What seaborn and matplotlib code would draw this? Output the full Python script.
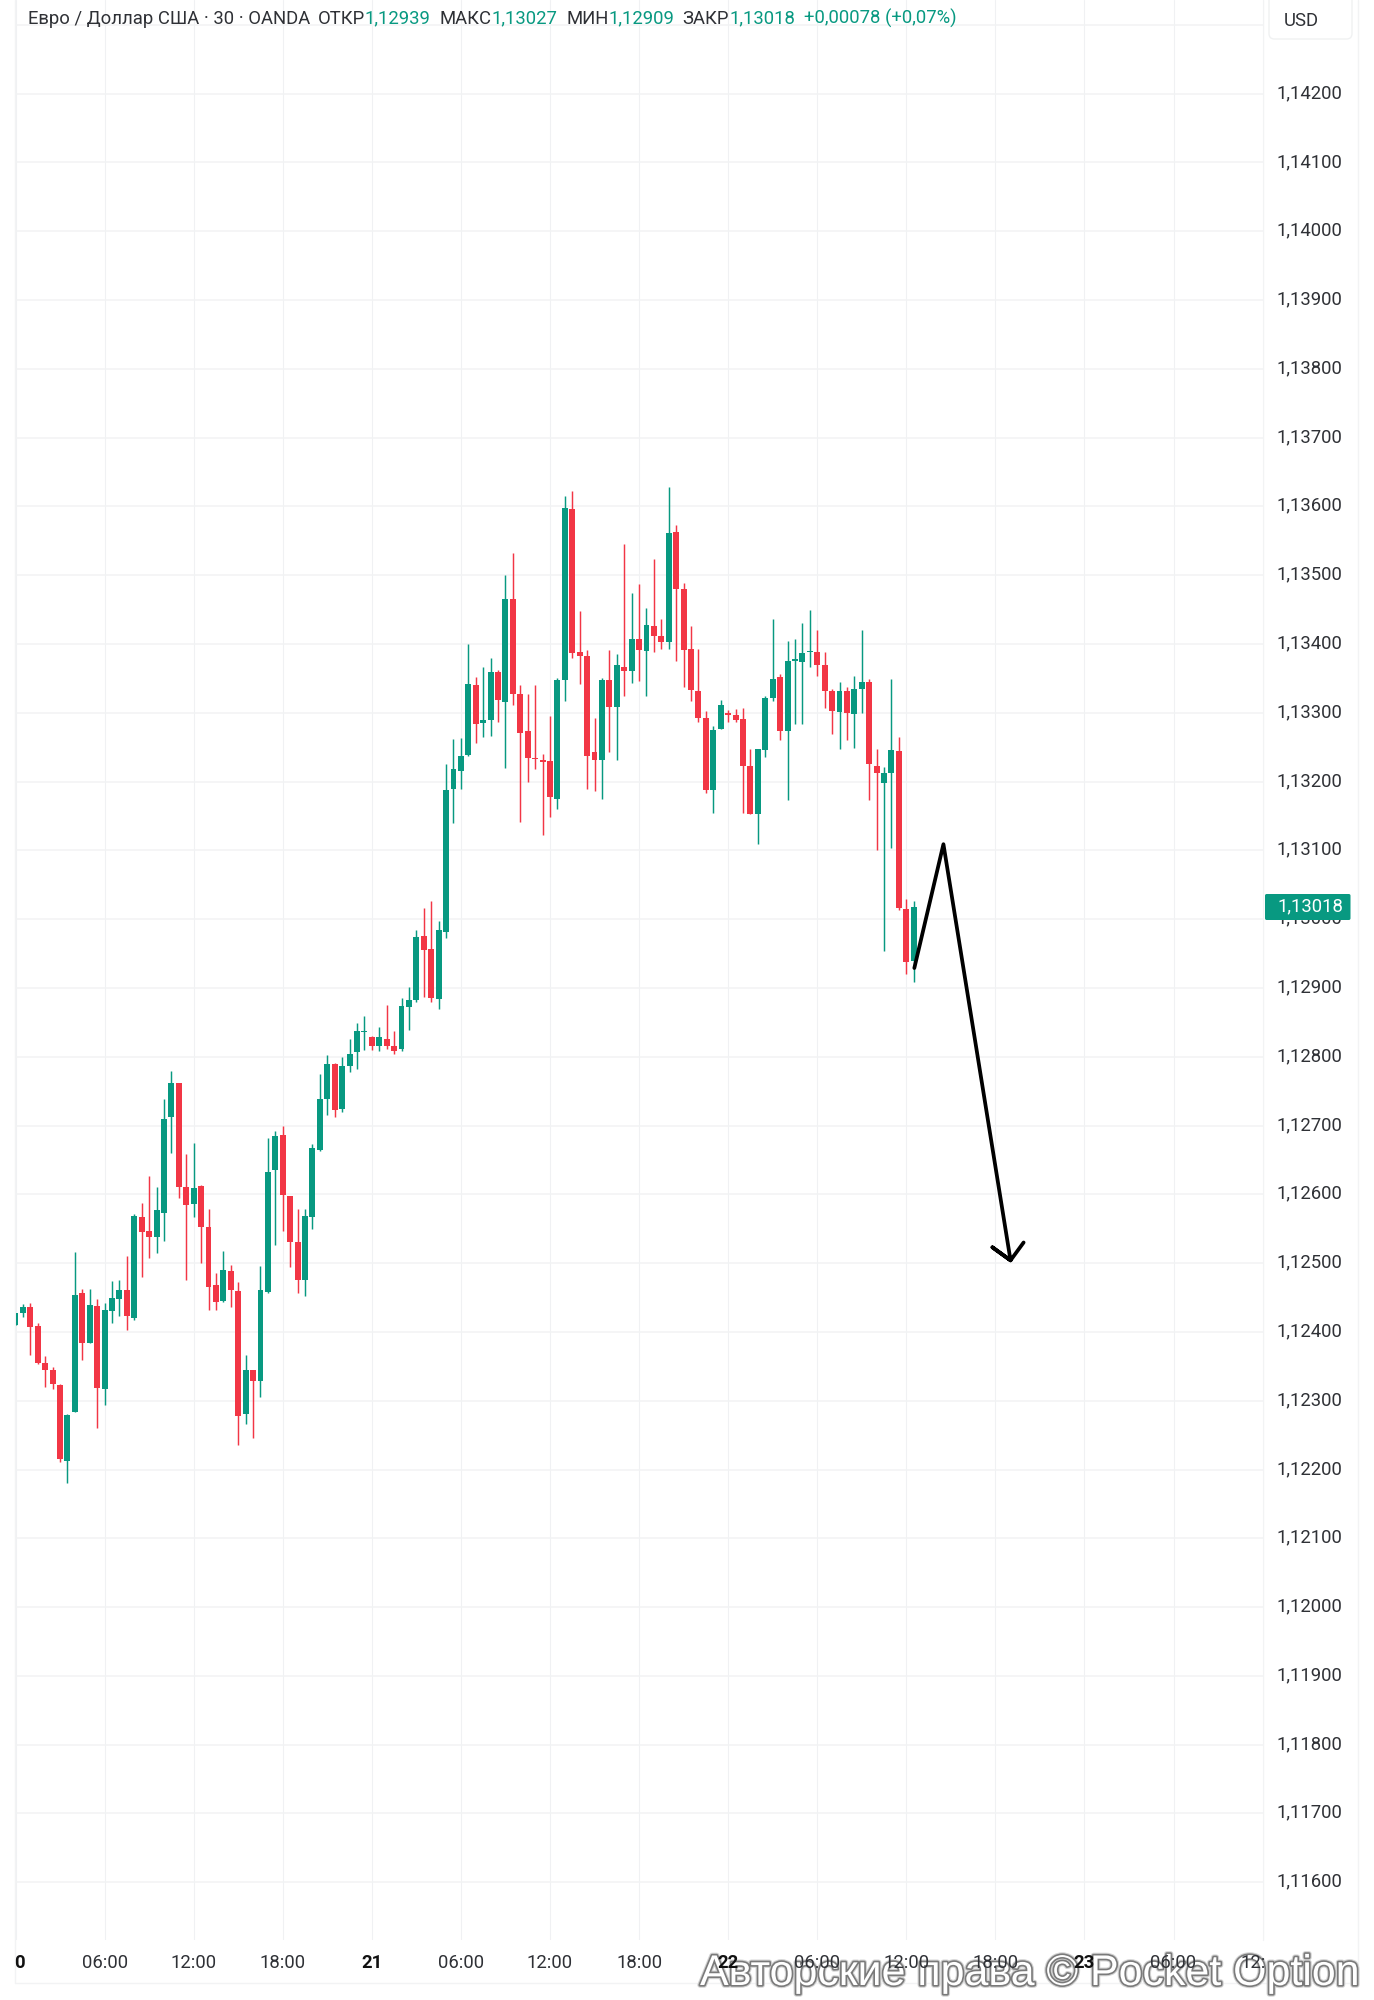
import numpy as np
import pandas as pd
import seaborn as sns
import matplotlib
matplotlib.use("Agg")
import matplotlib.pyplot as plt
import matplotlib.patheffects as pe
from matplotlib.lines import Line2D
from matplotlib.patches import FancyBboxPatch
from matplotlib.transforms import ScaledTranslation

# Prices in 1e-5 units (pipettes), one candle every 30 minutes from day 20 00:00
opens = [
    112410,112427,112436,112408,112355,112345,112323,112213,112283,112456,
    112384,112437,112317,112431,112448,112461,112420,112567,112546,112538,
    112573,112712,112762,112611,112586,112612,112553,112468,112445,112488,
    112459,112280,112344,112329,112458,112635,112686,112598,112531,112476,
    112567,112664,112738,112790,112724,112787,112807,112836,112828,112815,
    112826,112816,112811,112873,112882,112976,112956,112884,112981,113189,
    113216,113238,113340,113285,113289,113359,113316,113466,113327,113273,
    113235,113231,113230,113175,113347,113596,113388,113383,113243,113231,
    113347,113308,113367,113361,113408,113390,113426,113412,113403,113563,
    113480,113393,113331,113293,113188,113276,113299,113297,113291,113223,
    113153,113246,113321,113352,113273,113376,113374,113389,113389,113369,
    113331,113301,113331,113298,113335,113345,113223,113198,113212,113245,
    113015,112939]
closes = [
    112428,112436,112407,112355,112345,112324,112215,112279,112454,112384,
    112439,112319,112432,112450,112461,112423,112568,112545,112538,112577,
    112709,112762,112611,112584,112609,112553,112466,112444,112490,112461,
    112278,112344,112329,112461,112633,112685,112599,112530,112475,112568,
    112667,112738,112789,112723,112786,112804,112837,112838,112816,112828,
    112815,112809,112874,112882,112974,112955,112886,112984,113188,113218,
    113237,113342,113284,113289,113360,113319,113466,113327,113271,113234,
    113233,113228,113178,113347,113598,113387,113383,113237,113231,113348,
    113308,113369,113361,113408,113392,113427,113411,113403,113562,113480,
    113392,113333,113292,113188,113275,113311,113297,113290,113223,113153,
    113247,113321,113349,113273,113375,113378,113387,113390,113369,113331,
    113302,113331,113300,113335,113345,113225,113213,113213,113246,113016,
    112938,113018]
highs = [
    112428,112440,112442,112413,112365,112349,112324,112281,112516,112463,
    112463,112448,112442,112474,112476,112510,112571,112588,112626,112610,
    112738,112779,112762,112659,112674,112614,112578,112486,112518,112497,
    112472,112367,112344,112496,112682,112692,112700,112598,112579,112579,
    112673,112775,112803,112791,112800,112826,112849,112859,112830,112843,
    112875,112837,112886,112902,112984,113016,113027,112997,113226,113262,
    113264,113400,113352,113367,113380,113362,113501,113533,113341,113328,
    113340,113240,113296,113350,113615,113622,113448,113391,113292,113350,
    113392,113385,113546,113474,113487,113453,113523,113437,113628,113573,
    113488,113426,113393,113303,113281,113319,113304,113305,113307,113247,
    113247,113325,113437,113356,113405,113407,113431,113449,113421,113389,
    113335,113345,113338,113354,113421,113349,113247,113221,113349,113265,
    113030,113027]
lows = [
    112410,112422,112366,112353,112320,112317,112211,112181,112283,112359,
    112384,112260,112294,112413,112423,112403,112418,112480,112508,112514,
    112532,112660,112594,112476,112567,112500,112432,112432,112443,112436,
    112236,112266,112246,112306,112457,112526,112546,112495,112456,112452,
    112550,112663,112715,112713,112720,112778,112782,112810,112810,112809,
    112811,112804,112808,112839,112879,112887,112879,112870,112973,113140,
    113189,113237,113256,113265,113266,113287,113220,113311,113141,113199,
    113218,113122,113149,113160,113317,113379,113342,113189,113186,113174,
    113243,113232,113325,113343,113346,113325,113389,113393,113393,113375,
    113337,113317,113286,113183,113155,113276,113286,113287,113155,113153,
    113110,113236,113317,113261,113173,113284,113284,113366,113354,113307,
    113269,113248,113260,113249,113300,113173,113101,112954,113103,113014,
    112920,112909]

# Hand-drawn arrow: bar position, price
arrow_bars = [121.08, 125.0, 134.04, 131.6, 134.04, 135.8]
arrow_prices = [1.12929, 1.13109, 1.12504, 1.12523, 1.12504, 1.12530]

price_ticks = [1.116 + 0.001 * i for i in range(27)]
price_labels = [f"{p:.5f}".replace(".", ",") for p in price_ticks]
time_ticks = list(range(0, 169, 12))
time_labels = ["", "06:00", "12:00", "18:00", "21", "06:00", "12:00", "18:00",
               "22", "06:00", "12:00", "18:00", "23", "06:00", ""]
header = [("Евро / Доллар США · 30 · OANDA", 28, "dark"),
          ("ОТКР", 318, "dark"), ("1,12939", 364.5, "up"),
          ("МАКС", 439.5, "dark"), ("1,13027", 491.5, "up"),
          ("МИН", 566, "dark"), ("1,12909", 608, "up"),
          ("ЗАКР", 682.5, "dark"), ("1,13018", 729.5, "up"),
          ("+0,00078 (+0,07%)", 803.5, "up")]
last_price_y_label = "1,13018"

UP, DOWN = "#089981", "#F23645"
DARK = "#2f3136"
GRID = "#f2f3f4"
W, H = 1374, 2000
FS = 13.3

sns.set_theme(style="white")
plt.rcParams["font.family"] = ["Roboto", "DejaVu Sans"]

df = pd.DataFrame({"bar": np.arange(len(opens)),
                   "open": np.array(opens) / 1e5, "close": np.array(closes) / 1e5,
                   "high": np.array(highs) / 1e5, "low": np.array(lows) / 1e5})
df["color"] = np.where(df["close"] >= df["open"], UP, DOWN)

fig = plt.figure(figsize=(W / 100, H / 100), dpi=100, facecolor="white")
L, R, B = 15.5, 1263.0, 1939.5
ax = fig.add_axes([L / W, 1 - B / H, (R - L) / W, B / H])
ax.set_facecolor("white")

ax.vlines(df["bar"], df["low"], df["high"], colors=df["color"], linewidth=1.05, zorder=3)
ax.bar(df["bar"], (df["close"] - df["open"]).abs(),
       bottom=df[["open", "close"]].min(axis=1), width=0.8,
       color=df["color"], linewidth=0, zorder=4)

sns.lineplot(x=arrow_bars, y=arrow_prices, sort=False, estimator=None, color="black",
             linewidth=2.7, ax=ax, zorder=6, solid_joinstyle="round",
             solid_capstyle="round", legend=False)

ax.set_xlim((L - 14.4) / 7.43, (R - 14.4) / 7.43)
ax.set_ylim(1.142 - (B - 93.7) / 68790, 1.142 + 93.7 / 68790)
ax.set(xlabel="", ylabel="")
for s in ax.spines.values():
    s.set_visible(False)

ax.yaxis.tick_right()
ax.set_yticks(price_ticks + [1.143], labels=price_labels + [""])
ax.set_xticks(time_ticks, labels=time_labels)
ax.tick_params(axis="y", length=0, pad=10.0, labelsize=FS, labelcolor=DARK)
ax.tick_params(axis="x", length=0, pad=10.2, labelsize=FS, labelcolor=DARK)
for lbl, txt in zip(ax.get_xticklabels(), time_labels):
    if txt in ("21", "22", "23"):
        lbl.set_fontweight("bold")
        lbl.set_color("#111111")
lift = ScaledTranslation(0, 2.6 / 100, fig.dpi_scale_trans)
for lbl in ax.get_yticklabels():
    lbl.set_transform(lbl.get_transform() + lift)
ax.grid(True, axis="y", color=GRID, linewidth=1.1, zorder=0)
ax.grid(True, axis="x", color="#f0f1f3", linewidth=0.8, zorder=0)
ax.set_axisbelow(True)


def fx(x):
    return x / W


def fy(y):
    return 1 - y / H


# Chart frame
for xs, ys in [((15, 15), (0, 1983)), ((1358, 1358), (0, 1983)), ((15, 1358), (1983, 1983)),
               ((1263, 1263), (0, 1940))]:
    fig.add_artist(Line2D([fx(v) for v in xs], [fy(v) for v in ys], color="#f2f3f4",
                          linewidth=1.0, zorder=-2))

# Clipped time labels at both ends of the axis
fig.text(fx(19.3), fy(1968.5), "0", fontsize=FS, fontweight="bold", color="#111111",
         ha="center", va="baseline")
fig.text(fx(1241), fy(1968.5), "12:", fontsize=FS, color=DARK, ha="left", va="baseline")

# Header line
for txt, x, kind in header:
    fig.text(fx(x), fy(23.5), txt, fontsize=FS, color=UP if kind == "up" else DARK,
             ha="left", va="baseline", zorder=8)

# Currency button
fig.add_artist(FancyBboxPatch((fx(1269), fy(39)), (1352 - 1269) / W, 45 / H,
                              boxstyle="round,pad=0,rounding_size=0.004",
                              mutation_aspect=W / H, transform=fig.transFigure,
                              facecolor="white", edgecolor="#f0f1f2", linewidth=1.0, zorder=7))
fig.text(fx(1301), fy(25.5), "USD", fontsize=FS, color=DARK, ha="center", va="baseline", zorder=8)

# Last price badge
fig.add_artist(FancyBboxPatch((fx(1265), fy(920)), (1350.5 - 1265) / W, 26 / H,
                              boxstyle="round,pad=0,rounding_size=0.0012",
                              mutation_aspect=W / H, transform=fig.transFigure,
                              facecolor=UP, edgecolor="none", zorder=7))
fig.text(fx(1277.5), fy(911.5), last_price_y_label, fontsize=FS, color="white",
         ha="left", va="baseline", zorder=9)

# Watermark, behind the axis labels
fig.text(fx(700), fy(1985), "Авторские права © Pocket Option", fontsize=30.9,
         family=["Liberation Sans", "DejaVu Sans"], color="white", ha="left", va="baseline",
         zorder=-1,
         path_effects=[pe.Stroke(linewidth=4.0, foreground="#d2d2d2"),
                       pe.Stroke(linewidth=2.4, foreground="#7a7a7a"),
                       pe.Normal()])

fig.savefig("out.png", dpi=100, facecolor="white")
